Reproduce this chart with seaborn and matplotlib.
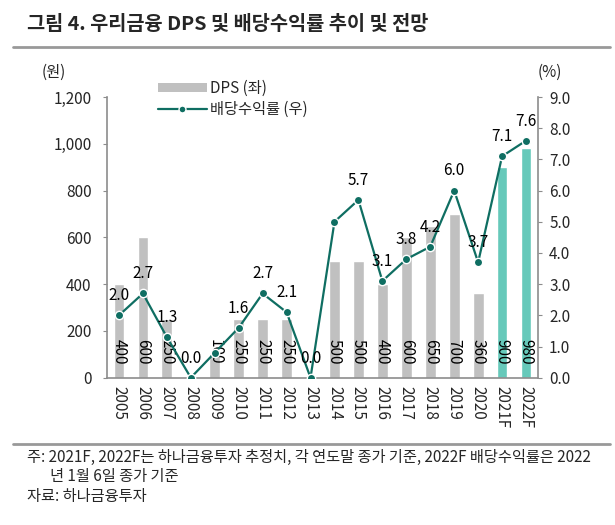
import numpy as np
import pandas as pd
import matplotlib
matplotlib.use("Agg")
import matplotlib.pyplot as plt
import seaborn as sns
from matplotlib.lines import Line2D
from matplotlib.patches import Patch

years = ["2005", "2006", "2007", "2008", "2009", "2010", "2011", "2012", "2013",
         "2014", "2015", "2016", "2017", "2018", "2019", "2020", "2021F", "2022F"]
dps = [400, 600, 250, 0, 100, 250, 250, 250, 0, 500, 500, 400, 600, 650, 700, 360, 900, 980]
div_yield = [2.0, 2.7, 1.3, 0.0, 0.8, 1.6, 2.7, 2.1, 0.0, 5.0, 5.7, 3.1, 3.8, 4.2, 6.0, 3.7, 7.1, 7.6]
forecast = [False] * 16 + [True, True]
# yield labels that are not shown in the original
hidden_labels = {"2009", "2014"}

left_ticks = [0, 200, 400, 600, 800, 1000, 1200]
right_ticks = [0.0, 1.0, 2.0, 3.0, 4.0, 5.0, 6.0, 7.0, 8.0, 9.0]

GRAY = "#c0c0c0"
TEAL_BAR = "#66c9ba"
TEAL_LINE = "#0f6e62"
AXIS = "#8c8c8c"

sns.set_style("white")
plt.rcParams["font.family"] = ["Noto Sans CJK KR", "DejaVu Sans"]

df = pd.DataFrame({"year": years, "dps": dps, "yield": div_yield, "fc": forecast})
W, H = 615, 525
fig = plt.figure(figsize=(W / 100, H / 100), dpi=100)
ax = fig.add_axes([107 / W, 1 - 377.7 / H, (538 - 107) / W, (377.7 - 97) / H])

bar_colors = [TEAL_BAR if f else GRAY for f in df["fc"]]
sns.barplot(data=df, x="year", y="dps", hue="year", palette=bar_colors,
            legend=False, width=0.45, ax=ax, saturation=1)
ax.set_xlim(-0.5, len(years) - 0.5)
ax.set_ylim(0, 1200)
ax.set_yticks(left_ticks)
ax.set_yticklabels([f"{v:,}" for v in left_ticks], fontsize=11)
ax.set_xlabel("")
ax.set_ylabel("")

# bar value labels inside bars
for i, v in enumerate(dps):
    if v > 0:
        ax.text(i, 110, str(v), rotation=-90, ha="center", va="center",
                fontsize=11, color="black", zorder=5)

ax2 = ax.twinx()
x = np.arange(len(years))
sns.lineplot(x=x, y=df["yield"], ax=ax2, color=TEAL_LINE, linewidth=1.6,
             marker="o", markersize=6, markerfacecolor=TEAL_LINE,
             markeredgecolor="white", markeredgewidth=1.0, zorder=6)
ax2.set_ylim(0, 9)
ax2.set_yticks(right_ticks)
ax2.set_yticklabels([f"{v:.1f}" for v in right_ticks], fontsize=11)
ax2.set_ylabel("")
for i, (yr, v) in enumerate(zip(years, div_yield)):
    if yr in hidden_labels:
        continue
    ax2.annotate(f"{v:.1f}", (i, v), xytext=(0, 8), textcoords="offset points",
                 ha="center", va="bottom", fontsize=11, color="black", zorder=7)

# x ticks at category boundaries, labels in the middle
ax.set_xticks(np.arange(-0.5, len(years), 1.0), minor=False)
ax.set_xticklabels([""] * (len(years) + 1))
ax.set_xticks(np.arange(len(years)), minor=True)
ax.set_xticklabels(years, minor=True, rotation=-90, fontsize=11)
ax.tick_params(axis="x", which="minor", length=0, pad=6)
ax.tick_params(axis="x", which="major", length=4, color=AXIS, direction="out")
ax.tick_params(axis="y", length=3, color=AXIS, pad=8)
ax2.tick_params(axis="y", length=3, color=AXIS, pad=5)

for a in (ax, ax2):
    a.spines["top"].set_visible(False)
    for s in ("left", "right", "bottom"):
        a.spines[s].set_color(AXIS)
        a.spines[s].set_linewidth(1.2)
ax.spines["right"].set_visible(False)
ax2.spines["left"].set_visible(False)
ax2.spines["bottom"].set_visible(False)
ax.grid(False)
ax2.grid(False)

# legend
handles = [Patch(facecolor=GRAY, edgecolor="none", label="DPS (좌)"),
           Line2D([0], [0], color=TEAL_LINE, linewidth=1.6, marker="o", markersize=5,
                  markerfacecolor=TEAL_LINE, markeredgecolor="white", label="배당수익률 (우)")]
fig.legend(handles=handles, loc="upper left", bbox_to_anchor=(150 / W, 1 - 72 / H),
           frameon=False, fontsize=11, handlelength=3.2, handleheight=0.5,
           handletextpad=0.2, labelspacing=0.25, borderpad=0)

# units
fig.text(54 / W, 1 - 72 / H, "(원)", ha="center", va="center", fontsize=11)
fig.text(550 / W, 1 - 72 / H, "(%)", ha="center", va="center", fontsize=11)

# title and rules
fig.text(27 / W, 1 - 25 / H, "그림 4. 우리금융 DPS 및 배당수익률 추이 및 전망",
         ha="left", va="center", fontsize=14.2, fontweight="bold")
fig.add_artist(Line2D([13 / W, 610 / W], [1 - 47 / H, 1 - 47 / H], color="#999999", linewidth=2))
fig.add_artist(Line2D([13 / W, 610 / W], [1 - 444 / H, 1 - 444 / H], color="#999999", linewidth=2))

# notes
fig.text(27 / W, 1 - 457 / H, "주: 2021F, 2022F는 하나금융투자 추정치, 각 연도말 종가 기준, 2022F 배당수익률은 2022",
         ha="left", va="center", fontsize=11)
fig.text(50 / W, 1 - 477 / H, "년 1월 6일 종가 기준", ha="left", va="center", fontsize=11)
fig.text(27 / W, 1 - 497 / H, "자료: 하나금융투자", ha="left", va="center", fontsize=11)

fig.savefig("out.png", dpi=100)
